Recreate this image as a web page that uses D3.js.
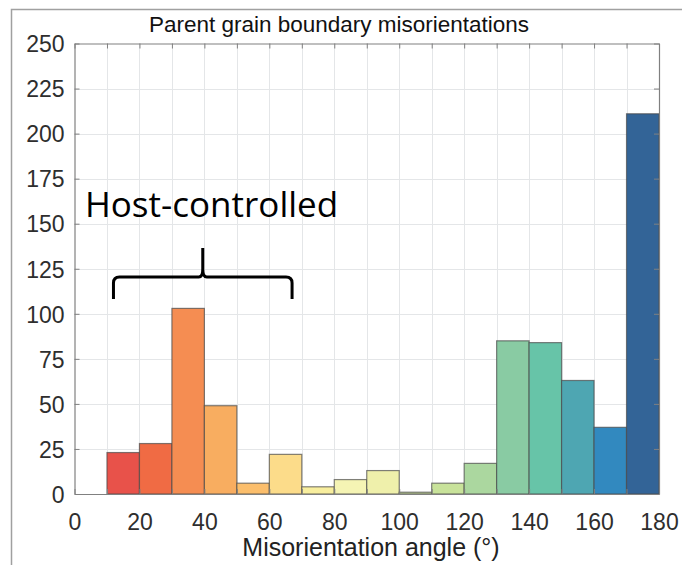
<!DOCTYPE html>
<html>
<head>
<meta charset="utf-8">
<script src="https://cdn.jsdelivr.net/npm/d3@7"></script>
<style>
  body { margin: 0; background: #fff; }
  svg { display: block; }
</style>
</head>
<body>
<svg width="682" height="565"></svg>
<script>
// histogram bins (degrees) and counts
const binStarts = [0, 10, 20, 30, 40, 50, 60, 70, 80, 90, 100, 110, 120, 130, 140, 150, 160, 170];
const counts = [0, 23, 28, 103, 49, 6, 22, 4, 8, 13, 1, 6, 17, 85, 84, 63, 37, 211];
const binColors = ["#ffffff", "#e8524a", "#f06b44", "#f58d52", "#f8ad60", "#fbbe6c", "#fcdc8a", "#f8ee9e",
  "#f5f4b4", "#eff0ab", "#c5d89a", "#c8e29a", "#abd79f", "#89cba3", "#67c4a8", "#4ea6b2", "#3289bf", "#336497"];
const xTicks = [0, 20, 40, 60, 80, 100, 120, 140, 160, 180];
const yTicks = [0, 25, 50, 75, 100, 125, 150, 175, 200, 225, 250];

const svg = d3.select("svg");
const width = +svg.attr("width");
const height = +svg.attr("height");

const plot = { left: 74.5, right: 659, top: 43.5, bottom: 494 };

const x = d3.scaleLinear().domain([0, 180]).range([plot.left, plot.right]);
const y = d3.scaleLinear().domain([0, 250]).range([plot.bottom, plot.top]);

// outer frame (only top and left edges show in the picture)
svg.append("path")
  .attr("d", `M11.5,${height} L11.5,9.5 L${width},9.5`)
  .attr("fill", "none")
  .attr("stroke", "#a0a0a0")
  .attr("stroke-width", 1.5);

// grid
const grid = svg.append("g").attr("stroke", "#e4e6e8").attr("stroke-width", 1);
grid.selectAll("line.gx")
  .data(d3.range(10, 180, 10))
  .join("line")
  .attr("class", "gx")
  .attr("x1", d => Math.round(x(d)) + 0.5).attr("x2", d => Math.round(x(d)) + 0.5)
  .attr("y1", plot.top).attr("y2", plot.bottom);
grid.selectAll("line.gy")
  .data(yTicks.slice(1, -1))
  .join("line")
  .attr("class", "gy")
  .attr("y1", d => Math.round(y(d)) + 0.5).attr("y2", d => Math.round(y(d)) + 0.5)
  .attr("x1", plot.left).attr("x2", plot.right);

// bars
svg.append("g")
  .selectAll("rect")
  .data(binStarts.map((s, i) => ({ s, v: counts[i], c: binColors[i] })).filter(d => d.v > 0))
  .join("rect")
  .attr("x", d => x(d.s))
  .attr("width", d => x(d.s + 10) - x(d.s))
  .attr("y", d => y(d.v))
  .attr("height", d => y(0) - y(d.v))
  .attr("fill", d => d.c)
  .attr("stroke", "#4a4a4a")
  .attr("stroke-opacity", 0.7)
  .attr("stroke-width", 1.2);

// axes with inward ticks, matlab box style
const tickLen = 5;
const xAxis = g => g.call(d3.axisBottom(x).tickValues(d3.range(0, 190, 10)).tickSizeInner(-tickLen).tickSizeOuter(0)
  .tickFormat(d => xTicks.includes(d) ? d : ""));
const yAxis = g => g.call(d3.axisLeft(y).tickValues(yTicks).tickSizeInner(-tickLen).tickSizeOuter(0));

svg.append("g").attr("transform", `translate(0,${plot.bottom})`).call(xAxis)
  .call(g => g.selectAll("text").attr("dy", null).attr("y", 36));
svg.append("g").attr("transform", `translate(${plot.left},0)`).call(yAxis)
  .call(g => g.selectAll("text").attr("x", -10).attr("dy", "0.36em"));
svg.append("g").attr("transform", `translate(0,${plot.top})`)
  .call(d3.axisTop(x).tickValues(d3.range(0, 190, 10)).tickSizeInner(-tickLen).tickSizeOuter(0).tickFormat(""));
svg.append("g").attr("transform", `translate(${plot.right},0)`)
  .call(d3.axisRight(y).tickValues(yTicks).tickSizeInner(-tickLen).tickSizeOuter(0).tickFormat(""));

svg.selectAll(".domain").attr("stroke", "#808080").attr("stroke-width", 1.2);
svg.selectAll(".tick line").attr("stroke", "#808080");
svg.selectAll(".tick text")
  .attr("fill", "#2e2e2e")
  .style("font-family", "'Liberation Sans', Arial, sans-serif")
  .style("font-size", "23px");

// title and axis label
svg.append("text")
  .attr("x", 339)
  .attr("y", 32)
  .attr("text-anchor", "middle")
  .attr("fill", "#111")
  .style("font-family", "'Liberation Sans', Arial, sans-serif")
  .style("font-size", "22.5px")
  .text("Parent grain boundary misorientations");

svg.append("text")
  .attr("x", 371)
  .attr("y", 556)
  .attr("text-anchor", "middle")
  .attr("fill", "#222")
  .style("font-family", "'Liberation Sans', Arial, sans-serif")
  .style("font-size", "25px")
  .text("Misorientation angle (°)");

// annotation: brace over the low-angle bins
const braceL = 12, braceR = 67, braceMid = 39.5;
const by0 = 299, by1 = 277, byTip = 248;
svg.append("path")
  .attr("d", `M${x(braceL)},${by0} L${x(braceL)},${by1 + 6} Q${x(braceL)},${by1} ${x(braceL) + 6},${by1}
    L${x(braceMid) - 4},${by1} Q${x(braceMid)},${by1} ${x(braceMid)},${by1 - 8} L${x(braceMid)},${byTip}
    M${x(braceMid)},${by1 - 8} Q${x(braceMid)},${by1} ${x(braceMid) + 4},${by1}
    L${x(braceR) - 6},${by1} Q${x(braceR)},${by1} ${x(braceR)},${by1 + 6} L${x(braceR)},${by0}`)
  .attr("fill", "none")
  .attr("stroke", "#000")
  .attr("stroke-width", 3);

svg.append("text")
  .attr("x", 85)
  .attr("y", 217)
  .attr("fill", "#000")
  .style("font-family", "'Open Sans', sans-serif")
  .style("font-size", "35px")
  .text("Host-controlled");
</script>
</body>
</html>
